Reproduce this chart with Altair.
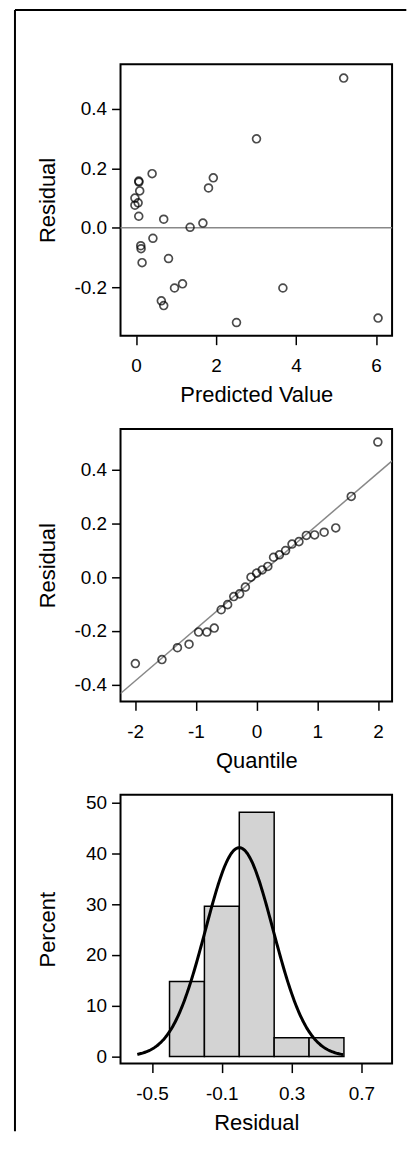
import altair as alt
import pandas as pd

# ---- Panel 1: residual vs predicted value ----
pred = [5.19, 3.01, 0.40, 0.066, 0.07, 1.93, 1.81, 0.09, -0.03, -0.03, 0.05, 0.066, 0.69,
        1.67, 1.35, 0.42, 0.116, 0.124, 0.149, 0.81, 1.16, 0.96, 3.67, 0.63, 0.69, 2.51, 6.05]
resid = [0.503, 0.299, 0.182, 0.157, 0.154, 0.168, 0.134, 0.124, 0.100, 0.076, 0.084, 0.039, 0.029,
         0.016, 0.002, -0.035, -0.060, -0.070, -0.117, -0.103, -0.188, -0.202, -0.202, -0.245,
         -0.261, -0.318, -0.303]
zero_line = [0.0]

# ---- Panel 2: normal quantile plot ----
qq_quantile = [-1.996, -1.558, -1.303, -1.112, -0.955, -0.819, -0.697, -0.583, -0.477, -0.376,
               -0.279, -0.185, -0.092, 0.0, 0.092, 0.185, 0.279, 0.376, 0.477, 0.583, 0.697,
               0.819, 0.955, 1.112, 1.303, 1.558, 1.996]
qq_resid = [-0.321, -0.306, -0.262, -0.249, -0.204, -0.204, -0.189, -0.121, -0.102, -0.072,
            -0.062, -0.037, 0.000, 0.015, 0.027, 0.040, 0.074, 0.083, 0.099, 0.123, 0.132,
            0.155, 0.157, 0.167, 0.183, 0.300, 0.502]
qq_line_x = [-2.24, 2.23]
qq_line_y = [-0.432, 0.432]

# ---- Panel 3: histogram with normal curve ----
bin_lo = [-0.4, -0.2, 0.0, 0.2, 0.4]
bin_hi = [-0.2, 0.0, 0.2, 0.4, 0.6]
percent = [14.8, 29.6, 48.1, 3.7, 3.7]
normal_mean = 0.0
normal_sd = 0.194
bin_width = 0.2
curve_start, curve_stop = -0.585, 0.595

FONT = "Liberation Sans"
W = 272.7
H1, H2, H3 = 272.7, 273.6, 270.0
SPACING = 93.35


def fmt_expr(fmt):
    return (f"datum.value < 0 ? '-' + format(-datum.value, '{fmt}') "
            f": format(datum.value, '{fmt}')")


common = dict(domain=False, grid=False, ticks=True, tickSize=9, tickWidth=1.5,
              tickColor="black", labelFont=FONT, labelFontSize=19, labelColor="black",
              labelFlush=False, labelOverlap=False, titleFont=FONT, titleFontSize=22,
              titleFontWeight="normal", titleColor="black")


def x_axis(title, values, fmt):
    return alt.Axis(title=title, values=values, labelExpr=fmt_expr(fmt), labelPadding=12,
                    titleX=W / 2, titleY=66, titleAlign="center", titleBaseline="alphabetic",
                    **common)


def y_axis(title, values, fmt, h):
    return alt.Axis(title=title, values=values, labelExpr=fmt_expr(fmt), labelPadding=5,
                    titleX=-66.7, titleY=h / 2, titleAngle=270, titleAlign="center",
                    titleBaseline="alphabetic", **common)


PT = dict(shape="circle", filled=False, color="black", size=62, strokeWidth=1.7)

# Panel 1
df1 = pd.DataFrame({"pred": pred, "resid": resid})
xs1 = alt.Scale(domain=[-0.39, 6.40], nice=False, zero=False)
ys1 = alt.Scale(domain=[-0.3622, 0.5498], nice=False, zero=False)
pts1 = alt.Chart(df1).mark_point(**PT).encode(
    x=alt.X("pred:Q", scale=xs1, axis=x_axis("Predicted Value", [0, 2, 4, 6], "d")),
    y=alt.Y("resid:Q", scale=ys1, axis=y_axis("Residual", [-0.2, 0.0, 0.2, 0.4], ".1f", H1)),
)
ref1 = alt.Chart(pd.DataFrame({"y": zero_line})).mark_rule(color="#888888", strokeWidth=1.5).encode(
    y=alt.Y("y:Q", scale=ys1)
)
frame_df = pd.DataFrame({"k": [0]})
frame_v = alt.Chart(frame_df).mark_rule(color="black", strokeWidth=2).encode(
    x=alt.value(-106), y=alt.value(-54.3), y2=alt.value(1071.7)
)
frame_h = alt.Chart(frame_df).mark_rule(color="black", strokeWidth=2).encode(
    x=alt.value(-106), x2=alt.value(287), y=alt.value(-54.3)
)
p1 = alt.layer(ref1, pts1, frame_v, frame_h).properties(width=W, height=H1)

# Panel 2
df2 = pd.DataFrame({"q": qq_quantile, "r": qq_resid})
xs2 = alt.Scale(domain=[-2.24, 2.23], nice=False, zero=False)
ys2 = alt.Scale(domain=[-0.4614, 0.5505], nice=False, zero=False)
line2 = alt.Chart(pd.DataFrame({"q": qq_line_x, "r": qq_line_y})).mark_line(
    color="#888888", strokeWidth=1.5, clip=True).encode(
    x=alt.X("q:Q", scale=xs2), y=alt.Y("r:Q", scale=ys2)
)
pts2 = alt.Chart(df2).mark_point(**PT).encode(
    x=alt.X("q:Q", scale=xs2, axis=x_axis("Quantile", [-2, -1, 0, 1, 2], "d")),
    y=alt.Y("r:Q", scale=ys2,
            axis=y_axis("Residual", [-0.4, -0.2, 0.0, 0.2, 0.4], ".1f", H2)),
)
p2 = alt.layer(line2, pts2).properties(width=W, height=H2)

# Panel 3
df3 = pd.DataFrame({"lo": bin_lo, "hi": bin_hi, "pct": percent})
xs3 = alt.Scale(domain=[-0.681, 0.876], nice=False, zero=False)
ys3 = alt.Scale(domain=[-1.39, 51.55], nice=False, zero=False)
bars = alt.Chart(df3).mark_rect(fill="#d3d3d3", stroke="black", strokeWidth=1.5).encode(
    x=alt.X("lo:Q", scale=xs3, axis=x_axis("Residual", [-0.5, -0.1, 0.3, 0.7], ".1f")),
    x2="hi:Q",
    y=alt.Y("pct:Q", scale=ys3, axis=y_axis("Percent", [0, 10, 20, 30, 40, 50], "d", H3)),
    y2=alt.datum(0),
)
curve = alt.Chart(alt.sequence(curve_start, curve_stop + 0.001, 0.005, as_="x")).transform_calculate(
    pct=(f"100 * {bin_width} * exp(-0.5 * pow((datum.x - {normal_mean}) / {normal_sd}, 2))"
         f" / ({normal_sd} * sqrt(2 * PI))")
).mark_line(color="black", strokeWidth=3).encode(
    x=alt.X("x:Q", scale=xs3), y=alt.Y("pct:Q", scale=ys3)
)
p3 = alt.layer(bars, curve).properties(width=W, height=H3)

chart = alt.vconcat(p1, p2, p3, spacing=SPACING, bounds="flush").properties(
    padding={"left": 5, "top": -3, "right": 0, "bottom": 0}
).configure_view(stroke="black", strokeWidth=2).resolve_scale(x="independent", y="independent")

chart.save("out.html", embed_options={"renderer": "svg", "actions": False})
